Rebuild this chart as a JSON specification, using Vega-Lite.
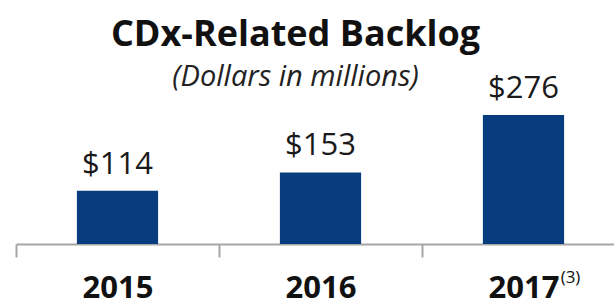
{
  "$schema": "https://vega.github.io/schema/vega-lite/v6.json",
  "autosize": {"type": "none"},
  "width": 609,
  "height": 144,
  "padding": {"left": 16, "top": 100, "right": 0, "bottom": 62},
  "background": "white",
  "title": {
    "text": "CDx-Related Backlog",
    "subtitle": "(Dollars in millions)",
    "anchor": "middle",
    "dx": -25,
    "offset": -20,
    "font": "Open Sans",
    "fontSize": 36,
    "fontWeight": "bold",
    "color": "#111111",
    "subtitleFont": "Open Sans",
    "subtitleFontSize": 29,
    "subtitleFontStyle": "italic",
    "subtitleColor": "#222222",
    "subtitlePadding": 9
  },
  "data": {
    "values": [
      {"year": "2015", "value": 114, "label": "$114", "note": ""},
      {"year": "2016", "value": 153, "label": "$153", "note": ""},
      {"year": "2017", "value": 276, "label": "$276", "note": "(3)"}
    ]
  },
  "encoding": {
    "x": {
      "field": "year",
      "type": "nominal",
      "sort": null,
      "scale": {"paddingInner": 0, "paddingOuter": 0},
      "axis": {
        "title": null,
        "labelAngle": 0,
        "tickBand": "extent",
        "domainColor": "#a6a6a6",
        "domainWidth": 2,
        "tickColor": "#a6a6a6",
        "tickWidth": 2,
        "tickSize": 13,
        "labelFont": "Open Sans",
        "labelFontSize": 31,
        "labelFontWeight": "bold",
        "labelColor": "#111111",
        "labelPadding": 16
      }
    }
  },
  "layer": [
    {
      "mark": {"type": "bar", "color": "#073c7e", "width": {"band": 0.4}},
      "encoding": {
        "y": {"field": "value", "type": "quantitative", "scale": {"domain": [0, 308], "nice": false, "zero": true}, "axis": null}
      }
    },
    {
      "mark": {"type": "text", "font": "Open Sans", "fontSize": 31, "baseline": "alphabetic", "dy": -17, "color": "#1a1a1a"},
      "encoding": {
        "y": {"field": "value", "type": "quantitative", "scale": {"domain": [0, 308], "nice": false, "zero": true}},
        "text": {"field": "label"}
      }
    },
    {
      "mark": {"type": "text", "font": "Open Sans", "fontSize": 17, "baseline": "alphabetic", "dx": 47, "dy": 39, "color": "#111111"},
      "encoding": {
        "y": {"datum": 0, "type": "quantitative", "scale": {"domain": [0, 308], "nice": false, "zero": true}},
        "text": {"field": "note"}
      }
    }
  ],
  "config": {"view": {"stroke": null}}
}
